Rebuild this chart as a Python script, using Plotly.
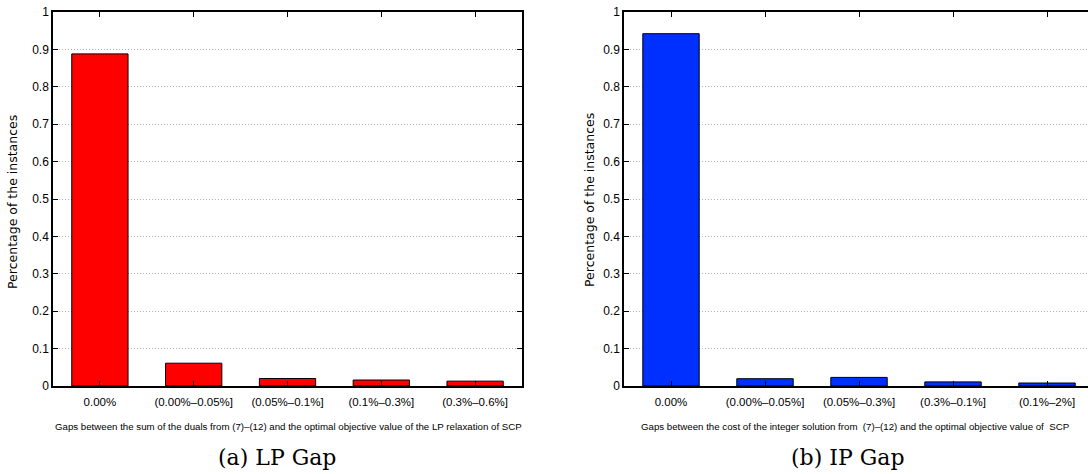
import plotly.graph_objects as go

# ---- data ----
lp_categories = ["0.00%", "(0.00%–0.05%]", "(0.05%–0.1%]", "(0.1%–0.3%]", "(0.3%–0.6%]"]
lp_values = [0.888, 0.061, 0.020, 0.016, 0.013]

ip_categories = ["0.00%", "(0.00%–0.05%]", "(0.05%–0.3%]", "(0.3%–0.1%]", "(0.1%–2%]"]
ip_values = [0.942, 0.0195, 0.023, 0.011, 0.008]

y_ticks = [0, 0.1, 0.2, 0.3, 0.4, 0.5, 0.6, 0.7, 0.8, 0.9, 1]
y_ticktext = ["0", "0.1", "0.2", "0.3", "0.4", "0.5", "0.6", "0.7", "0.8", "0.9", "1"]

y_title = "Percentage of the instances"
lp_xtitle = "Gaps between the sum of the duals from (7)–(12) and the optimal objective value of the LP relaxation of SCP"
ip_xtitle = "Gaps between the cost of the integer solution from  (7)–(12) and the optimal objective value of  SCP"
lp_caption = "(a) LP Gap"
ip_caption = "(b) IP Gap"

W, H = 1088, 474
sans = "Liberation Sans, Arial, sans-serif"
serif = "DejaVu Serif, Liberation Serif, serif"

lp_x = list(range(1, len(lp_categories) + 1))
ip_x = list(range(1, len(ip_categories) + 1))

fig = go.Figure()
fig.add_trace(go.Bar(x=lp_x, y=lp_values, width=0.6, marker=dict(color="#ff0000", line=dict(color="black", width=1)),
                     xaxis="x", yaxis="y", showlegend=False))
fig.add_trace(go.Bar(x=ip_x, y=ip_values, width=0.6, marker=dict(color="#0030ff", line=dict(color="black", width=1)),
                     xaxis="x2", yaxis="y2", showlegend=False))

ydom = [(474 - 386) / H, (474 - 12) / H]
common_x = dict(showline=True, linecolor="black", linewidth=1.5, ticks="inside", ticklen=5, tickcolor="black",
                showgrid=False, zeroline=False, automargin=False, ticklabelstandoff=4,
                tickfont=dict(family=sans, size=11.5, color="black"))
common_y = dict(showline=True, linecolor="black", linewidth=1.5, ticks="inside", ticklen=5, tickcolor="black",
                showgrid=True, gridcolor="#b0b0b0", griddash="1px,2px", gridwidth=1, zeroline=False,
                automargin=False, range=[0, 1], tickvals=y_ticks, ticktext=y_ticktext,
                tickfont=dict(family=sans, size=12, color="black"))

fig.update_layout(
    width=W, height=H,
    margin=dict(l=0, r=0, t=0, b=0, pad=0),
    paper_bgcolor="white", plot_bgcolor="white",
    xaxis=dict(common_x, domain=[53 / W, 522 / W], range=[0.5, 5.5], tickvals=lp_x, ticktext=lp_categories,
               mirror="ticks", anchor="y"),
    yaxis=dict(common_y, domain=ydom, mirror="ticks", anchor="x"),
    xaxis2=dict(common_x, domain=[624 / W, 1.0], range=[0.5, 5.436], tickvals=ip_x, ticktext=ip_categories,
                mirror="ticks", anchor="y2"),
    yaxis2=dict(common_y, domain=ydom, mirror=False, anchor="x2"),
)

annos = [
    dict(text=lp_xtitle, x=288 / W, y=(474 - 426) / H, font=dict(family=sans, size=9.7, color="black")),
    dict(text=ip_xtitle, x=855 / W, y=(474 - 426) / H, font=dict(family=sans, size=9.7, color="black")),
    dict(text=lp_caption, x=277 / W, y=(474 - 457) / H, font=dict(family=serif, size=22, color="black")),
    dict(text=ip_caption, x=848 / W, y=(474 - 457) / H, font=dict(family=serif, size=22, color="black")),
    dict(text=y_title, x=12 / W, y=(474 - 202) / H, textangle=-90, font=dict(family="DejaVu Sans, sans-serif", size=12.5, color="black")),
    dict(text=y_title, x=590 / W, y=(474 - 200) / H, textangle=-90, font=dict(family="DejaVu Sans, sans-serif", size=12.5, color="black")),
]
for a in annos:
    fig.add_annotation(xref="paper", yref="paper", xanchor="center", yanchor="middle", showarrow=False, **a)

fig.write_html("out.html", config={"displayModeBar": False},
               post_script="document.body.style.margin='0';document.body.style.padding='0';")
